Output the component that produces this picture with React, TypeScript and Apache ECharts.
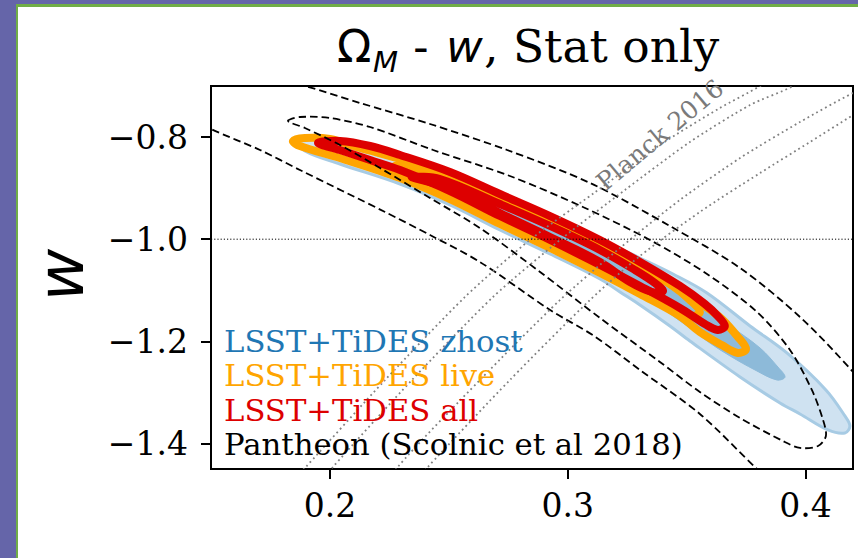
import React, { useEffect, useRef } from "react";
import * as echarts from "echarts";

type Pt = [number, number];

// ---- axes ----
const omegaRange: Pt = [0.15, 0.42];
const wRange: Pt = [-1.45, -0.7];
const omegaTicks = [0.2, 0.3, 0.4];
const wTicks = [-1.4, -1.2, -1.0, -0.8];
const wReference = -1.0;

// ---- labels ----
const titleParts = ["Ω", "M", " - ", "w", ", Stat only"];
const yAxisName = "w";
const planckLabel = "Planck 2016";
const legendLabels = [
  "LSST+TiDES zhost",
  "LSST+TiDES live",
  "LSST+TiDES all",
  "Pantheon (Scolnic et al 2018)",
];
const legendColors = ["#1f77b4", "#ffa500", "#dd0000", "#000000"];

// ---- contours (Ω_M, w) ----
const zhostOuter: Pt[] = [
  [0.1857, -0.8038], [0.2, -0.8038], [0.2211, -0.8214], [0.2421, -0.8547], [0.2673, -0.9017],
  [0.2926, -0.9507], [0.3178, -1.0094], [0.3304, -1.0368], [0.3443, -1.0681], [0.3586, -1.1053],
  [0.3767, -1.1699], [0.3922, -1.2228], [0.4086, -1.2952], [0.4166, -1.3461], [0.4187, -1.3657],
  [0.4166, -1.3795], [0.4095, -1.3736], [0.3977, -1.3422], [0.3893, -1.3207], [0.3725, -1.2698],
  [0.3514, -1.1993], [0.343, -1.1699], [0.3304, -1.1288], [0.322, -1.1034], [0.3136, -1.0779],
  [0.2926, -1.029], [0.2715, -0.982], [0.2505, -0.933], [0.2295, -0.8919], [0.2042, -0.8527],
  [0.1895, -0.8273],
];
const zhostInner: Pt[] = [
  [0.2631, -0.9232], [0.2799, -0.9526], [0.3052, -1.0055], [0.3304, -1.0564], [0.3514, -1.1151],
  [0.3683, -1.1699], [0.3809, -1.213], [0.3884, -1.2502], [0.3914, -1.2698], [0.388, -1.2757],
  [0.3788, -1.2561], [0.3683, -1.2287], [0.3598, -1.2033], [0.3514, -1.1739], [0.3388, -1.1327],
  [0.322, -1.0799], [0.3052, -1.0368], [0.2841, -0.9781], [0.2673, -0.9389],
];
const liveOuter: Pt[] = [
  [0.1845, -0.8077], [0.1895, -0.8018], [0.2, -0.8038], [0.2127, -0.8214], [0.2295, -0.8429],
  [0.2505, -0.8762], [0.2715, -0.9193], [0.2926, -0.9624], [0.3136, -1.0094], [0.3304, -1.0525],
  [0.3472, -1.0995], [0.3577, -1.1308], [0.3648, -1.1562], [0.3716, -1.1915], [0.375, -1.215],
  [0.3716, -1.2228], [0.3648, -1.2072], [0.3556, -1.1817], [0.3472, -1.1504], [0.3304, -1.1073],
  [0.3136, -1.0662], [0.2926, -1.0172], [0.2715, -0.9702], [0.2505, -0.9213], [0.2295, -0.8801],
  [0.2042, -0.841], [0.1874, -0.8175],
];
const liveInner: Pt[] = [
  [0.2274, -0.8566], [0.2421, -0.8684], [0.2715, -0.9213], [0.2926, -0.9643], [0.3136, -1.0113],
  [0.3304, -1.0525], [0.343, -1.0877], [0.3514, -1.119], [0.3556, -1.1425], [0.3514, -1.1504],
  [0.3388, -1.1249], [0.3136, -1.0583], [0.2926, -1.0094], [0.2715, -0.9604], [0.2463, -0.9095],
  [0.2337, -0.8743],
];
const allOuter: Pt[] = [
  [0.195, -0.8116], [0.2042, -0.8077], [0.2169, -0.8175], [0.2295, -0.8351], [0.2505, -0.8684],
  [0.2715, -0.9115], [0.2926, -0.9546], [0.3136, -1.0015], [0.3304, -1.0446], [0.3472, -1.0916],
  [0.3577, -1.1269], [0.3631, -1.1504], [0.3661, -1.1699], [0.3631, -1.1778], [0.3577, -1.166],
  [0.3472, -1.1347], [0.3304, -1.0916], [0.3136, -1.0505], [0.2926, -1.0015], [0.2715, -0.9546],
  [0.2505, -0.9056], [0.2295, -0.8645], [0.2169, -0.8449], [0.2042, -0.8253],
];
const allInner: Pt[] = [
  [0.2345, -0.8782], [0.2463, -0.8821], [0.2715, -0.9311], [0.2926, -0.9741], [0.3136, -1.0211],
  [0.3283, -1.0603], [0.3367, -1.0858], [0.3401, -1.1014], [0.3355, -1.1034], [0.3262, -1.0838],
  [0.3136, -1.0446], [0.2926, -0.9957], [0.2715, -0.9487], [0.2505, -0.8997], [0.24, -0.886],
];
const pantheonInner: Pt[] = [
  [0.1824, -0.7685], [0.1874, -0.7607], [0.2, -0.7627], [0.2169, -0.7803], [0.2434, -0.8253],
  [0.2757, -0.8762], [0.3064, -0.9369], [0.3346, -1.0015], [0.3586, -1.0681], [0.3796, -1.1425],
  [0.3935, -1.2169], [0.4027, -1.2952], [0.4074, -1.354], [0.4086, -1.3853], [0.4053, -1.4049],
  [0.3977, -1.4088], [0.3905, -1.3951], [0.3725, -1.3501], [0.3556, -1.2992], [0.3388, -1.2404],
  [0.3136, -1.1543], [0.2884, -1.0642], [0.2631, -0.9781], [0.2421, -0.9193], [0.2211, -0.8606],
  [0.2042, -0.8155], [0.1895, -0.7822],
];
const pantheonOuter: Pt[] = [
  [0.158, -0.6648], [0.1895, -0.7], [0.2127, -0.7333], [0.2421, -0.7744], [0.2745, -0.8253],
  [0.3094, -0.8899], [0.343, -0.9742], [0.3725, -1.0564], [0.3977, -1.1523], [0.42, -1.26],
  [0.4397, -1.3736], [0.4524, -1.5106], [0.4397, -1.589], [0.4104, -1.5694], [0.3935, -1.5106],
  [0.3796, -1.45], [0.3556, -1.3422], [0.3304, -1.2561], [0.3111, -1.1895], [0.2926, -1.1386],
  [0.2631, -1.0446], [0.2421, -0.9918], [0.2232, -0.9467], [0.1874, -0.8645], [0.1706, -0.8253],
  [0.15, -0.7842], [0.137, -0.7509], [0.1286, -0.7078], [0.137, -0.6687],
];
const planckOuter: Pt[] = [
  [0.179, -1.5009], [0.1895, -1.448], [0.2232, -1.2757], [0.2568, -1.1132], [0.2841, -1.0015],
  [0.3111, -0.9095], [0.3388, -0.8155], [0.364, -0.7431], [0.3809, -0.7], [0.3935, -0.6589],
  [0.4187, -0.6099], [0.4439, -0.6295], [0.4397, -0.698], [0.42, -0.7568], [0.4019, -0.8097],
  [0.3809, -0.8704], [0.3556, -0.9467], [0.3304, -1.0329], [0.3094, -1.119], [0.2757, -1.2757],
  [0.2408, -1.448], [0.2295, -1.5106], [0.2042, -1.54],
];
const planckInner: Pt[] = [
  [0.1916, -1.5009], [0.2009, -1.448], [0.2345, -1.2757], [0.2686, -1.1132], [0.2968, -1.0015],
  [0.3241, -0.9036], [0.3514, -0.8097], [0.3767, -0.7372], [0.3948, -0.7], [0.4104, -0.6491],
  [0.4314, -0.6197], [0.4418, -0.6687], [0.42, -0.7137], [0.3977, -0.7705], [0.3725, -0.841],
  [0.3472, -0.9232], [0.322, -1.0172], [0.2968, -1.119], [0.2631, -1.2757], [0.2282, -1.448],
  [0.2211, -1.5106], [0.2042, -1.5263],
];

const SERIF = "'DejaVu Serif', serif";
const SANS = "'DejaVu Sans', sans-serif";

function contour(name: string, pts: Pt[], style: any, smooth = 0.35) {
  return {
    name,
    type: "custom",
    coordinateSystem: "cartesian2d",
    clip: true,
    silent: true,
    data: [pts[0]],
    renderItem: (_p: any, api: any) => ({
      type: "polygon",
      shape: { points: pts.map((p) => api.coord(p)), smooth },
      style,
    }),
  };
}

function txt(text: string, x: number, y: number, opts: any, extra: any = {}) {
  return {
    type: "text",
    x,
    y,
    z: 100,
    silent: true,
    ...extra,
    style: {
      text,
      fill: opts.fill || "#000",
      fontSize: opts.fontSize,
      fontFamily: opts.fontFamily || SERIF,
      fontStyle: opts.fontStyle || "normal",
      align: opts.align || "left",
      textAlign: opts.align || "left",
      verticalAlign: "middle",
      textVerticalAlign: "middle",
    },
  };
}

const fmtW = (v: number) => (v < 0 ? "\u2212" : "") + Math.abs(v).toFixed(1);

export default function App() {
  const ref = useRef<HTMLDivElement>(null);
  useEffect(() => {
    const chart = echarts.init(ref.current!, null, { renderer: "svg" });
    const thick = { fill: "none", lineWidth: 8, lineJoin: "round", lineCap: "round" };
    const option: any = {
      animation: false,
      backgroundColor: "#ffffff",
      grid: {
        left: 211,
        top: 86,
        width: 642,
        height: 383,
        show: true,
        borderColor: "#000",
        borderWidth: 2,
        backgroundColor: "transparent",
      },
      xAxis: {
        type: "value",
        min: omegaRange[0],
        max: omegaRange[1],
        axisLine: { show: true, onZero: false, lineStyle: { color: "#000", width: 2 } },
        axisTick: { show: true, length: 10, lineStyle: { color: "#000", width: 2 }, customValues: omegaTicks },
        axisLabel: {
          customValues: omegaTicks,
          formatter: (v: number) => v.toFixed(1),
          fontSize: 33,
          fontFamily: SERIF,
          color: "#000",
          margin: 20,
        },
        splitLine: { show: false },
      },
      yAxis: {
        type: "value",
        min: wRange[0],
        max: wRange[1],
        axisLine: { show: true, onZero: false, lineStyle: { color: "#000", width: 2 } },
        axisTick: { show: true, length: 10, lineStyle: { color: "#000", width: 2 }, customValues: wTicks },
        axisLabel: {
          customValues: wTicks,
          formatter: fmtW,
          fontSize: 33,
          fontFamily: SERIF,
          color: "#000",
          margin: 23,
        },
        splitLine: { show: false },
      },
      series: [
        contour("zhost outer", zhostOuter, { fill: "#cfe2f1", stroke: "#a7cbe4", lineWidth: 3, lineJoin: "round" }),
        contour("zhost inner", zhostInner, { fill: "#8dbad9", stroke: "#8dbad9", lineWidth: 1 }),
        contour("live outer", liveOuter, { ...thick, stroke: "#ffa500" }),
        contour("live inner", liveInner, { ...thick, stroke: "#ffa500" }),
        contour("all outer", allOuter, { ...thick, stroke: "#dd0000" }),
        contour("all inner", allInner, { ...thick, stroke: "#dd0000" }),
        contour("Pantheon outer", pantheonOuter, { fill: "none", stroke: "#000", lineWidth: 1.8, lineDash: [7.5, 4] }, 0.3),
        contour("Pantheon inner", pantheonInner, { fill: "none", stroke: "#000", lineWidth: 1.8, lineDash: [7.5, 4] }, 0.3),
        contour("Planck outer", planckOuter, { fill: "none", stroke: "#808080", lineWidth: 1.8, lineDash: [1.8, 3.2] }, 0.25),
        contour("Planck inner", planckInner, { fill: "none", stroke: "#808080", lineWidth: 1.8, lineDash: [1.8, 3.2] }, 0.25),
        {
          name: "w = -1",
          type: "line",
          silent: true,
          symbol: "none",
          data: [
            [omegaRange[0], wReference],
            [omegaRange[1], wReference],
          ],
          lineStyle: { color: "#000", width: 1, type: [1.2, 2] },
        },
      ],
      graphic: [
        // page frame
        { type: "rect", z: 100, silent: true, shape: { x: 0, y: 0, width: 858, height: 4 }, style: { fill: "#6565a9" } },
        { type: "rect", z: 100, silent: true, shape: { x: 0, y: 0, width: 16, height: 558 }, style: { fill: "#6565a9" } },
        { type: "rect", z: 100, silent: true, shape: { x: 16, y: 4, width: 842, height: 3 }, style: { fill: "#70ad47" } },
        { type: "rect", z: 100, silent: true, shape: { x: 16, y: 4, width: 2, height: 554 }, style: { fill: "#70ad47" } },
        // title
        txt(titleParts[0], 337, 46.4, { fontSize: 45, fontFamily: SANS }),
        txt(titleParts[1], 373, 62, { fontSize: 29, fontFamily: SANS, fontStyle: "italic" }),
        txt(titleParts[2], 399, 46.4, { fontSize: 45 }),
        txt(titleParts[3], 446, 46.4, { fontSize: 45, fontFamily: SANS, fontStyle: "italic" }),
        txt(titleParts[4], 484, 46.4, { fontSize: 45.5 }),
        // y axis name
        txt(yAxisName, 61, 275, { fontSize: 64, fontFamily: SANS, fontStyle: "italic", align: "center" }, { rotation: Math.PI / 2 }),
        // Planck label
        txt(planckLabel, 660, 135, { fontSize: 25, fill: "#7a7a7a", align: "center" }, { rotation: (40 * Math.PI) / 180 }),
        // legend
        ...legendLabels.map((l, i) => txt(l, 224, 341.1 + i * 34.5, { fontSize: 30.7, fill: legendColors[i] })),
      ],
    };
    chart.setOption(option);
    return () => chart.dispose();
  }, []);
  return <div ref={ref} style={{ position: "fixed", left: 0, top: 0, width: 858, height: 558 }} />;
}
